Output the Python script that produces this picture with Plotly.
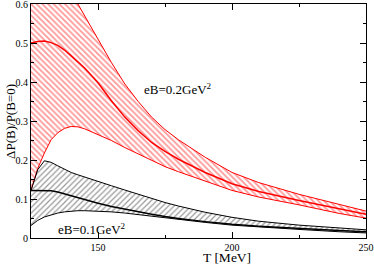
import plotly.graph_objects as go

# Temperature grid (MeV)
T = [125, 127.5, 130, 132.5, 135, 137.5, 140, 142.5, 145, 150, 155, 160, 165, 170, 175, 180, 190, 200, 210, 225, 240, 250]

# eB = 0.2 GeV^2 band
red_upper = [0.87, 0.83, 0.79, 0.75, 0.71, 0.67, 0.635, 0.60, 0.57, 0.51, 0.45, 0.395, 0.35, 0.31, 0.278, 0.252, 0.207, 0.168, 0.142, 0.112, 0.086, 0.069]
red_mid   = [0.500, 0.504, 0.505, 0.501, 0.494, 0.482, 0.467, 0.452, 0.436, 0.398, 0.352, 0.310, 0.275, 0.245, 0.222, 0.202, 0.168, 0.139, 0.119, 0.096, 0.074, 0.061]
red_lower = [0.122, 0.178, 0.218, 0.252, 0.270, 0.281, 0.286, 0.285, 0.280, 0.266, 0.250, 0.232, 0.215, 0.198, 0.183, 0.170, 0.145, 0.122, 0.105, 0.085, 0.063, 0.051]

# eB = 0.1 GeV^2 band
blk_upper = [0.122, 0.175, 0.198, 0.194, 0.185, 0.176, 0.168, 0.162, 0.156, 0.145, 0.134, 0.123, 0.112, 0.101, 0.091, 0.082, 0.066, 0.053, 0.043, 0.033, 0.025, 0.021]
blk_mid   = [0.122, 0.122, 0.122, 0.121, 0.118, 0.113, 0.108, 0.102, 0.097, 0.089, 0.081, 0.074, 0.067, 0.061, 0.055, 0.050, 0.042, 0.035, 0.030, 0.024, 0.019, 0.016]
blk_lower = [0.032, 0.045, 0.054, 0.060, 0.064, 0.067, 0.069, 0.070, 0.070, 0.069, 0.067, 0.064, 0.060, 0.055, 0.051, 0.047, 0.040, 0.033, 0.028, 0.022, 0.016, 0.013]

x_ticks = [150, 200, 250]
y_ticks = [0, 0.1, 0.2, 0.3, 0.4, 0.5, 0.6]
y_tick_text = ["0", "0.1", "0.2", "0.3", "0.4", "0.5", "0.6"]

fig = go.Figure()

# red band
fig.add_trace(go.Scatter(x=T, y=red_lower, mode="lines", line=dict(color="red", width=1), showlegend=False))
fig.add_trace(go.Scatter(x=T, y=red_upper, mode="lines", line=dict(color="red", width=1),
                         fill="tonexty", fillcolor="rgba(0,0,0,0)",
                         fillpattern=dict(shape="\\", fgcolor="#ff3030", bgcolor="rgba(255,255,255,0)", size=4, solidity=0.45),
                         showlegend=False))
fig.add_trace(go.Scatter(x=T, y=red_mid, mode="lines", line=dict(color="red", width=1.5), showlegend=False))

# black band
fig.add_trace(go.Scatter(x=T, y=blk_lower, mode="lines", line=dict(color="black", width=1), showlegend=False))
fig.add_trace(go.Scatter(x=T, y=blk_upper, mode="lines", line=dict(color="black", width=1),
                         fill="tonexty", fillcolor="rgba(0,0,0,0)",
                         fillpattern=dict(shape="/", fgcolor="#333333", bgcolor="rgba(255,255,255,0)", size=4, solidity=0.3),
                         showlegend=False))
fig.add_trace(go.Scatter(x=T, y=blk_mid, mode="lines", line=dict(color="black", width=1.5), showlegend=False))

font = "Liberation Serif"

fig.update_layout(
    width=374, height=264,
    margin=dict(l=31, r=8, t=4, b=26, autoexpand=False),
    paper_bgcolor="white", plot_bgcolor="white",
    font=dict(family=font, size=10, color="black"),
    xaxis=dict(range=[125, 250], tickvals=x_ticks, ticks="inside", ticklen=6, tickcolor="black",
               showline=True, linecolor="black", linewidth=1, mirror="allticks", automargin=False,
               ticklabeloverflow="allow",
               showgrid=False, zeroline=False, tickfont=dict(family=font, size=10),
               minor=dict(dtick=25, tick0=125, ticks="inside", ticklen=3, tickcolor="black")),
    yaxis=dict(range=[0, 0.6], tickvals=y_ticks, ticktext=y_tick_text, ticks="inside", ticklen=6, tickcolor="black",
               showline=True, linecolor="black", linewidth=1, mirror="allticks", automargin=False,
               ticklabeloverflow="allow",
               showgrid=False, zeroline=False, tickfont=dict(family=font, size=10),
               minor=dict(dtick=0.05, tick0=0, ticks="inside", ticklen=3, tickcolor="black")),
    annotations=[
        dict(text="eB=0.2GeV<sup>2</sup>", x=179.7, y=0.382, xref="x", yref="y", showarrow=False,
             font=dict(family=font, size=13, color="black")),
        dict(text="eB=0.1GeV<sup>2</sup>", x=147.7, y=0.024, xref="x", yref="y", showarrow=False,
             font=dict(family=font, size=13, color="black")),
        dict(text="T [MeV]", x=198, y=-0.084, xref="x", yref="paper", showarrow=False, yanchor="middle",
             font=dict(family=font, size=13.5, color="black")),
        dict(text="ΔP(B)/P(B=0)", x=-0.063, y=0.5, xref="paper", yref="paper", showarrow=False, textangle=-90,
             xanchor="center", yanchor="middle",
             font=dict(family=font, size=13, color="black")),
    ],
)

fig.write_html("out.html", config={"displayModeBar": False},
               post_script="document.body.style.margin='0';document.body.style.overflow='hidden';")
